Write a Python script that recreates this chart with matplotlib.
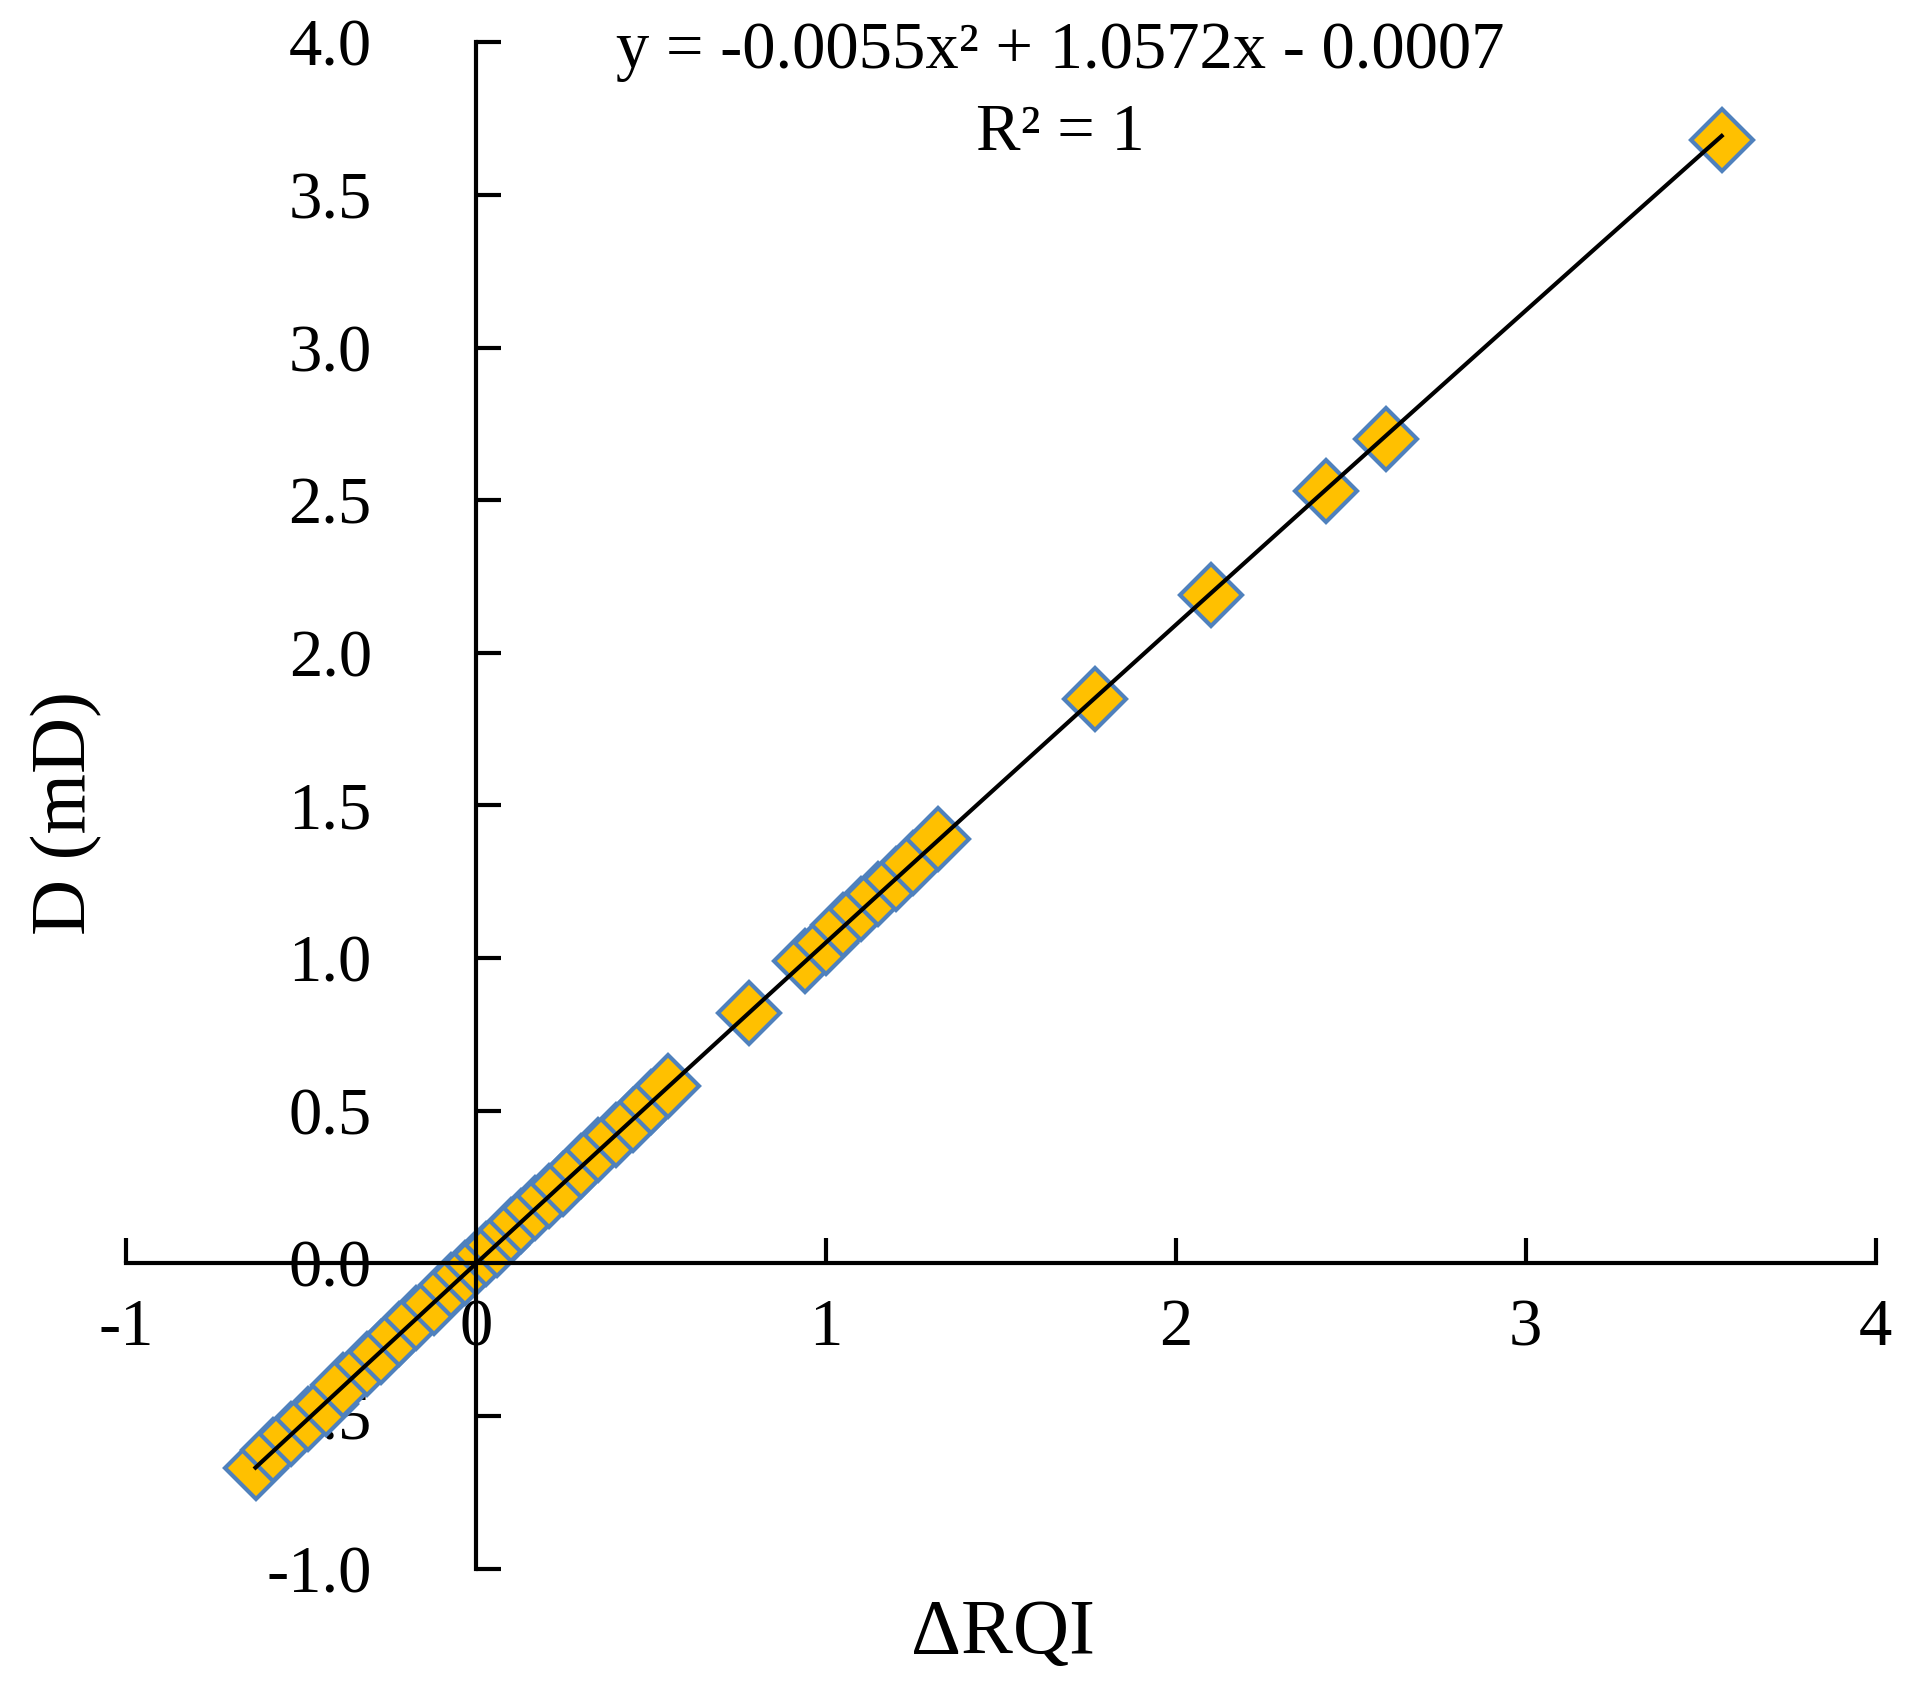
import matplotlib
matplotlib.use("Agg")
import matplotlib.pyplot as plt
import numpy as np

plt.rcParams['font.family'] = ['Liberation Serif', 'DejaVu Serif']

x_vals = [-0.63,-0.58,-0.53,-0.48,-0.43,-0.38,-0.31,-0.27,-0.22,-0.17,-0.12,-0.07,-0.03,0.0,0.03,0.06,0.1,0.13,0.17,0.21,0.25,0.3,0.35,0.4,0.45,0.5,0.55,0.78,0.94,1.0,1.05,1.1,1.15,1.2,1.25,1.32,1.77,2.1,2.43,2.6,3.56]
y_vals = [-0.67,-0.61,-0.56,-0.51,-0.46,-0.40,-0.33,-0.29,-0.23,-0.18,-0.13,-0.07,-0.03,0.0,0.03,0.06,0.11,0.14,0.18,0.22,0.26,0.32,0.37,0.42,0.47,0.53,0.58,0.82,0.99,1.05,1.11,1.16,1.21,1.26,1.31,1.39,1.85,2.19,2.53,2.70,3.68]
coef = [-0.0055, 1.0572, -0.0007]

fig = plt.figure(figsize=(19.10, 16.94), dpi=100)
ax = fig.add_axes([0.066, 0.074, 0.916, 0.901])
ax.set_xlim(-1, 4)
ax.set_ylim(-1, 4)

xf = np.linspace(min(x_vals), max(x_vals), 200)
ax.plot(xf, np.polyval(coef, xf), color='black', lw=3, zorder=3)
ax.plot(x_vals, y_vals, 'D', ms=32, mfc='#FFC000', mec='#4F81BD', mew=3, ls='none', zorder=2)

for s in ['top', 'right']:
    ax.spines[s].set_visible(False)
ax.spines['left'].set_position(('data', 0))
ax.spines['bottom'].set_position(('data', 0))
for s in ['left', 'bottom']:
    ax.spines[s].set_linewidth(3)
ax.set_xticks([-1, 0, 1, 2, 3, 4])
ax.set_xticklabels(['-1', '0', '1', '2', '3', '4'])
yt = np.arange(-1, 4.01, 0.5)
ax.set_yticks(yt)
ax.set_yticklabels([f'{v:.1f}' for v in yt])
ax.tick_params(axis='x', direction='in', length=18, width=3, labelsize=48, pad=25)
ax.tick_params(axis='y', direction='in', length=18, width=3, labelsize=48, pad=75)
for t in ax.yaxis.get_major_ticks():
    t.tick1line.set_marker(matplotlib.lines.TICKRIGHT)
for t in ax.xaxis.get_major_ticks():
    t.tick1line.set_marker(matplotlib.lines.TICKUP)

ax.text(1.67, 3.97, 'y = -0.0055x² + 1.0572x - 0.0007', fontsize=48, ha='center', va='center')
ax.text(1.67, 3.7, 'R² = 1', fontsize=48, ha='center', va='center')

fig.text(0.525, 0.035, 'ΔRQI', fontsize=56, ha='center', va='center')
fig.text(0.035, 0.52, 'D (mD)', fontsize=56, ha='center', va='center', rotation=90)

fig.savefig('out.png', dpi=100)
